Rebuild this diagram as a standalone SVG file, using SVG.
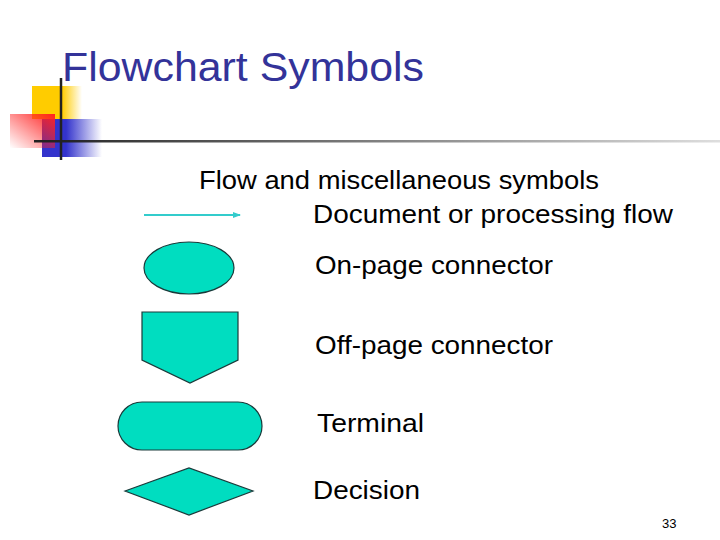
<svg xmlns="http://www.w3.org/2000/svg" width="720" height="540" viewBox="0 0 720 540">
<defs>
<linearGradient id="gy" x1="0" x2="1"><stop offset="0.6" stop-color="#FFCC00"/><stop offset="1" stop-color="#FFCC00" stop-opacity="0"/></linearGradient>
<linearGradient id="gb" x1="0" x2="1"><stop offset="0.4" stop-color="#3333CC"/><stop offset="1" stop-color="#3333CC" stop-opacity="0"/></linearGradient>
<linearGradient id="gr" x1="1" y1="0" x2="0" y2="1"><stop offset="0" stop-color="#FF2222"/><stop offset="1" stop-color="#FF2222" stop-opacity="0"/></linearGradient>
<linearGradient id="gl" gradientUnits="userSpaceOnUse" x1="34" y1="0" x2="720" y2="0"><stop offset="0" stop-color="#222"/><stop offset="1" stop-color="#222" stop-opacity="0.15"/></linearGradient>
<marker id="ah" markerWidth="8" markerHeight="6" refX="7" refY="3" orient="auto" markerUnits="userSpaceOnUse"><path d="M0,0 L8,3 L0,6 z" fill="#33CCCC"/></marker>
</defs>
<style>
.s{fill:#00DDC0;stroke:#1a3a3a;stroke-width:1.2}
.t{font-family:"Liberation Sans",Arial,sans-serif;font-size:25px;fill:#000}
</style>
<rect width="720" height="540" fill="#fff"/>
<g id="deco">
<rect x="32" y="86" width="50" height="33" fill="url(#gy)"/>
<rect x="42" y="119" width="60" height="38" fill="url(#gb)"/>
<rect x="10" y="114" width="45" height="34" fill="url(#gr)"/>
<line x1="61" y1="78" x2="61" y2="160" stroke="#222" stroke-width="2.5"/>
<rect x="34" y="140" width="686" height="2.5" fill="url(#gl)"/>
</g>
<text x="62" y="81" font-family="Liberation Sans,Arial,sans-serif" font-size="41" fill="#333399" textLength="362" lengthAdjust="spacingAndGlyphs">Flowchart Symbols</text>
<text class="t" x="199" y="189" textLength="400" lengthAdjust="spacingAndGlyphs">Flow and miscellaneous symbols</text>
<g id="connectors"><line x1="144" y1="215" x2="240" y2="215" stroke="#33CCCC" stroke-width="2" marker-end="url(#ah)"/></g>
<text class="t" x="313" y="223" textLength="360" lengthAdjust="spacingAndGlyphs">Document or processing flow</text>
<g id="onpage"><ellipse class="s" cx="189" cy="268" rx="45" ry="26"/></g>
<text class="t" x="315" y="274" textLength="238" lengthAdjust="spacingAndGlyphs">On-page connector</text>
<g id="offpage"><path class="s" d="M142,312 H238 V360 L190,383 L142,360 Z"/></g>
<text class="t" x="315" y="354" textLength="238" lengthAdjust="spacingAndGlyphs">Off-page connector</text>
<g id="terminal"><rect class="s" x="118" y="402" width="144" height="48" rx="24"/></g>
<text class="t" x="317" y="432" textLength="107" lengthAdjust="spacingAndGlyphs">Terminal</text>
<g id="decision"><path class="s" d="M125,491 L189,468 L253,491 L189,515 Z"/></g>
<text class="t" x="313" y="499" textLength="107" lengthAdjust="spacingAndGlyphs">Decision</text>
<text x="662" y="528" font-family="Liberation Sans,Arial,sans-serif" font-size="13" fill="#000">33</text>
</svg>
